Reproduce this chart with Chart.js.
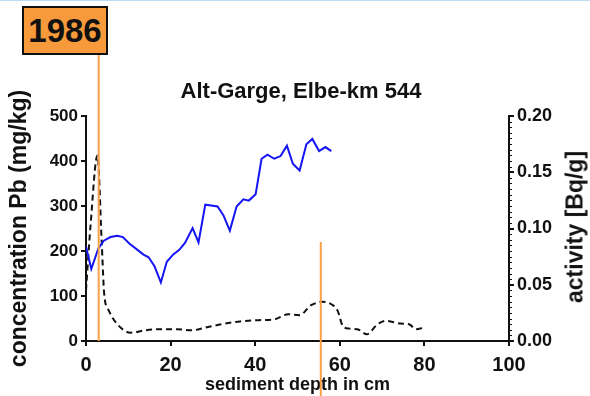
<!DOCTYPE html>
<html>
<head>
<meta charset="utf-8">
<script src="https://cdn.jsdelivr.net/npm/chart.js@4/dist/chart.umd.min.js"></script>
<style>
  html, body { margin: 0; padding: 0; background: #fff; }
  #wrap { position: relative; width: 590px; height: 396px; overflow: hidden; font-family: "Liberation Sans", Arial, sans-serif; }
  #topline { position: absolute; left: 0; top: 0; width: 590px; height: 1px; background: #bcdcf2; }
  #c { position: absolute; left: 0; top: 0; }
  #title { position: absolute; left: 86px; width: 430px; top: 78px; text-align: center; font-weight: bold; font-size: 22px; color: #111; }
  #yearbox { position: absolute; left: 22px; top: 6px; width: 82px; height: 45px; background: #f79a3c; border: 2px solid #111; text-align: center; font-weight: bold; font-size: 33px; line-height: 45px; color: #111; }
  #rtitle { position: absolute; left: 575px; top: 227px; width: 0; height: 0; }
  #rtitle span { position: absolute; left: 0; top: 0; transform: translate(-50%, -50%) rotate(-90deg); white-space: nowrap; font-weight: bold; font-size: 23px; color: #111; }
</style>
</head>
<body>
<div id="wrap">
  <canvas id="c" width="590" height="396"></canvas>
  <div id="topline"></div>
  <div id="title">Alt-Garge, Elbe-km 544</div>
  <div id="yearbox">1986</div>
  <div id="rtitle"><span>activity [Bq/g]</span></div>
</div>
<script>
// Pb concentration (mg/kg) vs depth (cm)
const depthPb = [0, 1.25, 2.9, 4.2, 5.8, 7.4, 8.7, 10.3, 12.1, 13.6, 14.8, 16.2, 17.7, 19.1, 20.7, 22.0, 23.4, 25.2, 26.6, 28.2, 29.6, 31.1, 32.5, 34.0, 35.6, 37.2, 38.5, 40.1, 41.5, 42.9, 44.5, 46.0, 47.5, 48.9, 50.5, 52.1, 53.5, 55.1, 56.6, 58.0];
const pb = [210, 160, 205, 223, 231, 234, 231, 216, 203, 192, 186, 166, 130, 176, 193, 202, 218, 251, 219, 303, 301, 299, 279, 245, 299, 315, 312, 326, 405, 414, 405, 411, 434, 394, 379, 437, 449, 422, 431, 422];

// activity (Bq/g) vs depth (cm)
const depthAct = [0, 1.1, 2.7, 3.7, 4.3, 5.4, 7.4, 10.5, 14, 17.2, 21.5, 25, 28.2, 32, 36, 40.7, 44.6, 47.8, 50.5, 53.2, 56, 58, 59.5, 60.7, 62.3, 64.2, 66.4, 68.9, 70.9, 74.4, 76.4, 78, 79.9];
const act = [0.045, 0.104, 0.165, 0.089, 0.042, 0.027, 0.015, 0.0074, 0.0095, 0.0104, 0.0104, 0.0095, 0.0119, 0.0149, 0.0172, 0.0185, 0.0193, 0.0238, 0.0229, 0.0318, 0.0348, 0.0327, 0.0268, 0.0134, 0.011, 0.0104, 0.006, 0.0149, 0.0179, 0.0155, 0.0149, 0.0104, 0.0119];

// orange marker lines (depth in cm); top of second line in mg/kg on left scale
const markerDepths = [3, 55.5];
const markerTopPb = [null, 220];

const xTicks = [0, 20, 40, 60, 80, 100];
const yTicks = [0, 100, 200, 300, 400, 500];
const y2Ticks = [0, 0.05, 0.10, 0.15, 0.20];

const FONT = '"Liberation Sans", Arial, sans-serif';
const ORANGE = '#f9a045';

const toXY = (xs, ys) => xs.map((x, i) => ({ x: x, y: ys[i] }));

const decor = {
  id: 'decor',
  afterDraw(chart) {
    const ctx = chart.ctx;
    const xs = chart.scales.x, ys = chart.scales.y, y2 = chart.scales.y2;
    ctx.save();
    // minor ticks on right axis (outward)
    ctx.strokeStyle = '#111';
    ctx.lineWidth = 1;
    for (let v = 0; v <= 0.2001; v += 0.005) {
      const p = Math.round(y2.getPixelForValue(v)) + 0.5;
      ctx.beginPath();
      ctx.moveTo(y2.left, p);
      ctx.lineTo(y2.left + 3, p);
      ctx.stroke();
    }
    // orange marker lines
    ctx.strokeStyle = ORANGE;
    ctx.lineWidth = 2;
    const px0 = xs.getPixelForValue(markerDepths[0]);
    ctx.beginPath();
    ctx.moveTo(px0, 53);
    ctx.lineTo(px0, ys.getPixelForValue(0));
    ctx.stroke();
    const px1 = xs.getPixelForValue(markerDepths[1]);
    ctx.beginPath();
    ctx.moveTo(px1, ys.getPixelForValue(markerTopPb[1]));
    ctx.lineTo(px1, chart.height);
    ctx.stroke();
    ctx.restore();
  }
};

const gridOpts = { drawOnChartArea: false, drawTicks: true, tickLength: 5, color: '#111', lineWidth: 2 };
const borderOpts = { color: '#111', width: 2 };

new Chart(document.getElementById('c'), {
  type: 'line',
  data: {
    datasets: [
      {
        label: 'Pb',
        data: toXY(depthPb, pb),
        yAxisID: 'y',
        borderColor: '#1414f5',
        borderWidth: 2,
        pointRadius: 0,
        tension: 0,
        fill: false
      },
      {
        label: 'activity',
        data: toXY(depthAct, act),
        yAxisID: 'y2',
        borderColor: '#111',
        borderWidth: 2,
        borderDash: [6, 4],
        pointRadius: 0,
        cubicInterpolationMode: 'monotone',
        fill: false
      }
    ]
  },
  options: {
    responsive: false,
    animation: false,
    events: [],
    layout: { padding: { top: 116, left: 0, right: 0, bottom: 0 } },
    plugins: { legend: { display: false }, tooltip: { enabled: false }, title: { display: false } },
    scales: {
      x: {
        type: 'linear', min: 0, max: 100,
        afterBuildTicks: s => { s.ticks = xTicks.map(v => ({ value: v })); },
        afterFit: s => { s.height = 55; },
        ticks: { font: { family: FONT, size: 20, weight: 'bold' }, color: '#111', padding: 7, maxRotation: 0 },
        grid: gridOpts, border: borderOpts,
        title: { display: true, text: 'sediment depth in cm', font: { family: FONT, size: 18, weight: 'bold' }, color: '#111', padding: { top: 0, bottom: 0 } }
      },
      y: {
        position: 'left', min: 0, max: 500,
        afterBuildTicks: s => { s.ticks = yTicks.map(v => ({ value: v })); },
        afterFit: s => { s.width = 86; },
        ticks: { font: { family: FONT, size: 17, weight: 'bold' }, color: '#111', padding: 3 },
        grid: gridOpts, border: borderOpts,
        title: { display: true, text: 'concentration Pb (mg/kg)', font: { family: FONT, size: 23, weight: 'bold' }, color: '#111', padding: { top: 6, bottom: 4 } }
      },
      y2: {
        position: 'right', min: 0, max: 0.2,
        afterBuildTicks: s => { s.ticks = y2Ticks.map(v => ({ value: v })); },
        afterFit: s => { s.width = 81; },
        ticks: { font: { family: FONT, size: 18, weight: 'bold' }, color: '#111', padding: 3, callback: v => v.toFixed(2) },
        grid: gridOpts, border: borderOpts,
        title: { display: false }
      }
    }
  },
  plugins: [decor]
});
</script>
</body>
</html>
